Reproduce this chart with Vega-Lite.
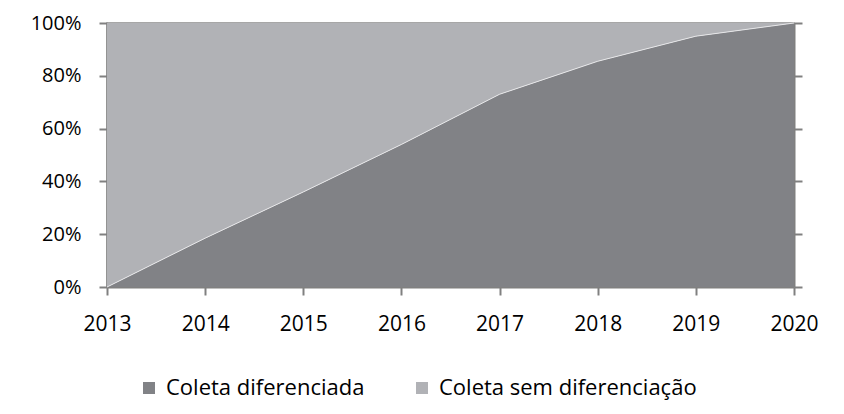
{
  "$schema": "https://vega.github.io/schema/vega-lite/v6.json",
  "autosize": {"type": "none"},
  "width": 687,
  "height": 264,
  "padding": {"left": 107, "top": 23, "right": 50, "bottom": 127},
  "background": "white",
  "data": {
    "values": [
      {"ano": 2013, "serie": "Coleta diferenciada", "valor": 0},
      {"ano": 2014, "serie": "Coleta diferenciada", "valor": 18.5},
      {"ano": 2015, "serie": "Coleta diferenciada", "valor": 36},
      {"ano": 2016, "serie": "Coleta diferenciada", "valor": 54},
      {"ano": 2017, "serie": "Coleta diferenciada", "valor": 73},
      {"ano": 2018, "serie": "Coleta diferenciada", "valor": 85.5},
      {"ano": 2019, "serie": "Coleta diferenciada", "valor": 95},
      {"ano": 2020, "serie": "Coleta diferenciada", "valor": 100},
      {"ano": 2013, "serie": "Coleta sem diferenciação", "valor": 100},
      {"ano": 2014, "serie": "Coleta sem diferenciação", "valor": 81.5},
      {"ano": 2015, "serie": "Coleta sem diferenciação", "valor": 64},
      {"ano": 2016, "serie": "Coleta sem diferenciação", "valor": 46},
      {"ano": 2017, "serie": "Coleta sem diferenciação", "valor": 27},
      {"ano": 2018, "serie": "Coleta sem diferenciação", "valor": 14.5},
      {"ano": 2019, "serie": "Coleta sem diferenciação", "valor": 5},
      {"ano": 2020, "serie": "Coleta sem diferenciação", "valor": 0}
    ]
  },
  "encoding": {
    "x": {
      "field": "ano",
      "type": "quantitative",
      "scale": {"domain": [2013, 2020], "nice": false},
      "axis": {"values": [2013, 2014, 2015, 2016, 2017, 2018, 2019, 2020], "format": "d", "title": null, "labelPadding": 18, "labelFlush": false, "labelFontSize": 21}
    }
  },
  "layer": [
    {
      "mark": {"type": "area"},
      "encoding": {
        "y": {
          "field": "valor",
          "type": "quantitative",
          "stack": "zero",
          "scale": {"domain": [0, 100], "nice": false},
          "axis": {"values": [0, 20, 40, 60, 80, 100], "labelExpr": "datum.value + '%'", "title": null, "labelPadding": 18, "labelFlush": false}
        },
        "order": {"field": "serie", "sort": "ascending"},
        "color": {
          "field": "serie",
          "type": "nominal",
          "scale": {"domain": ["Coleta diferenciada", "Coleta sem diferenciação"], "range": ["#818286", "#b1b2b6"]},
          "legend": {
            "title": null,
            "orient": "none",
            "direction": "horizontal",
            "legendX": 31,
            "legendY": 354,
            "symbolType": "square",
            "symbolSize": 144,
            "symbolStrokeWidth": 0,
            "labelFont": "Open Sans",
            "labelFontSize": 22,
            "labelColor": "black",
            "labelLimit": 0,
            "labelOffset": 6,
            "columnPadding": 46,
            "padding": 0
          }
        }
      }
    },
    {
      "transform": [{"filter": "datum.serie == 'Coleta diferenciada'"}],
      "mark": {"type": "line", "color": "#e6e6e8", "strokeWidth": 1},
      "encoding": {
        "y": {
          "field": "valor",
          "type": "quantitative",
          "scale": {"domain": [0, 100], "nice": false},
          "axis": {"orient": "right", "values": [0, 20, 40, 60, 80, 100], "labels": false, "title": null}
        }
      }
    }
  ],
  "resolve": {"axis": {"y": "independent"}},
  "config": {
    "view": {"stroke": "#8a8a8a", "strokeWidth": 1.5},
    "axis": {
      "grid": false,
      "domainColor": "#808080",
      "domainWidth": 2,
      "tickColor": "#808080",
      "tickWidth": 2,
      "tickSize": 8,
      "labelFont": "Open Sans",
      "labelFontSize": 20,
      "labelColor": "black"
    }
  }
}
